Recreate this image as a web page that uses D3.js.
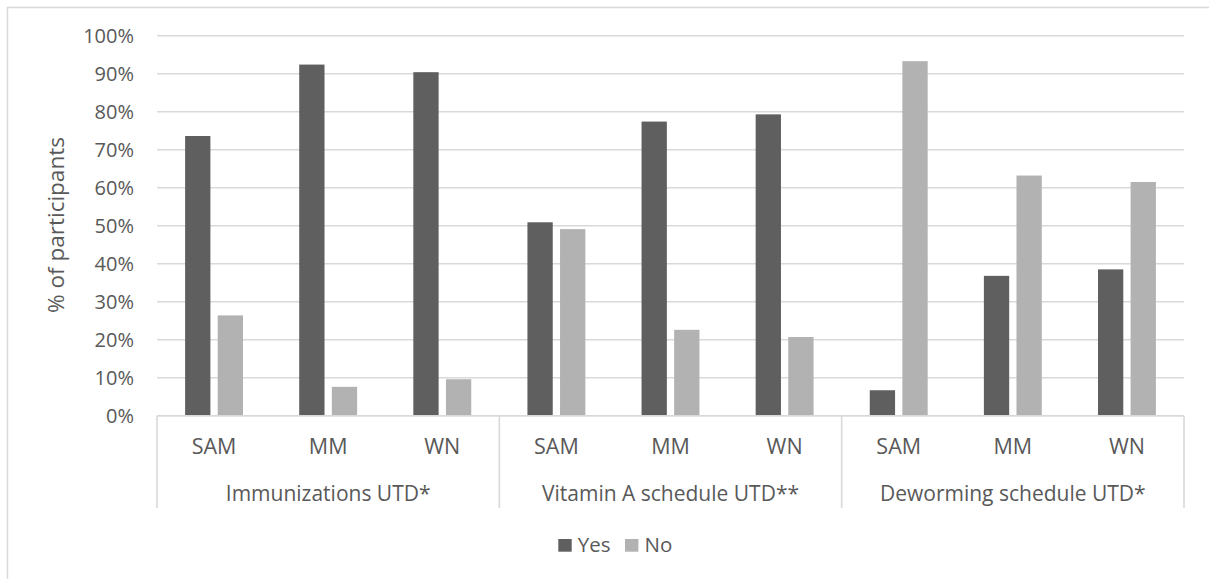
<!DOCTYPE html>
<html>
<head>
<meta charset="utf-8">
<script src="https://cdn.jsdelivr.net/npm/d3@7/dist/d3.min.js"></script>
<style>
  html, body { margin: 0; padding: 0; background: #ffffff; }
  svg { display: block; font-family: "Open Sans", "Noto Sans", sans-serif; }
</style>
</head>
<body>
<svg id="chart" width="1209" height="579"></svg>
<script>
// Outcome groups and the nutrition-status subgroups inside each
const groups = ["Immunizations UTD*", "Vitamin A schedule UTD**", "Deworming schedule UTD*"];
const subgroups = ["SAM", "MM", "WN"];
const seriesNames = ["Yes", "No"];

// Percent of participants, in group order (SAM, MM, WN per group)
const yesValues = [73.6, 92.4, 90.4, 50.9, 77.4, 79.3, 6.7, 36.8, 38.5];
const noValues  = [26.4, 7.6, 9.6, 49.1, 22.6, 20.7, 93.3, 63.2, 61.5];

const yTicks = [0, 10, 20, 30, 40, 50, 60, 70, 80, 90, 100];
const yTitle = "% of participants";

const colors = { Yes: "#5f5f5f", No: "#b2b2b2" };
const textColor = "#595959";
const lineColor = "#d9d9d9";

// Flat category list: one entry per (group, subgroup)
const categories = [];
groups.forEach((g, gi) => subgroups.forEach((s, si) => {
  const i = gi * subgroups.length + si;
  categories.push({ key: g + "|" + s, group: g, sub: s, Yes: yesValues[i], No: noValues[i] });
}));

const svg = d3.select("#chart");
const plot = { left: 157, right: 1184, top: 35.7, bottom: 415.7 };

const x = d3.scaleBand()
  .domain(categories.map(d => d.key))
  .range([plot.left, plot.right])
  .padding(0);

const xInner = d3.scaleBand()
  .domain(seriesNames)
  .range([0, x.bandwidth()])
  .paddingInner(0.224)
  .paddingOuter(0.862);

const y = d3.scaleLinear().domain([0, 100]).range([plot.bottom, plot.top]);

// Outer chart frame (top and left edges fall inside the view)
svg.append("line").attr("x1", 7).attr("x2", 1209).attr("y1", 7.5).attr("y2", 7.5)
  .attr("stroke", lineColor).attr("stroke-width", 1.5);
svg.append("line").attr("x1", 7.5).attr("x2", 7.5).attr("y1", 7).attr("y2", 579)
  .attr("stroke", lineColor).attr("stroke-width", 1.5);

// Horizontal gridlines
svg.append("g").selectAll("line").data(yTicks).join("line")
  .attr("x1", plot.left).attr("x2", plot.right)
  .attr("y1", d => y(d)).attr("y2", d => y(d))
  .attr("stroke", lineColor).attr("stroke-width", 1.6);

// Y axis labels
const yAxis = d3.axisLeft(y).tickValues(yTicks).tickFormat(d => d + "%").tickSize(0).tickPadding(0);
const yg = svg.append("g").attr("transform", `translate(134,0)`).call(yAxis);
yg.select(".domain").remove();
yg.selectAll("text")
  .attr("font-family", "Open Sans")
  .attr("font-size", 20)
  .attr("fill", textColor)
  .attr("dy", "0.35em");

// Bars
const catG = svg.append("g").selectAll("g").data(categories).join("g")
  .attr("transform", d => `translate(${x(d.key)},0)`);
catG.selectAll("rect")
  .data(d => seriesNames.map(s => ({ s, v: d[s] })))
  .join("rect")
  .attr("x", d => xInner(d.s))
  .attr("width", xInner.bandwidth())
  .attr("y", d => y(d.v))
  .attr("height", d => y(0) - y(d.v))
  .attr("fill", d => colors[d.s]);

// Category axis box: top edge plus group separators
const boxBottom = 508;
svg.append("line").attr("x1", plot.left).attr("x2", plot.right)
  .attr("y1", plot.bottom).attr("y2", plot.bottom)
  .attr("stroke", lineColor).attr("stroke-width", 1.6);
const sepX = groups.map((g, gi) => x(categories[gi * subgroups.length].key)).concat([plot.right]);
svg.append("g").selectAll("line").data(sepX).join("line")
  .attr("x1", d => d).attr("x2", d => d)
  .attr("y1", plot.bottom).attr("y2", boxBottom)
  .attr("stroke", lineColor).attr("stroke-width", 1.6);

// Subgroup labels
svg.append("g").selectAll("text").data(categories).join("text")
  .attr("x", d => x(d.key) + x.bandwidth() / 2)
  .attr("y", 454)
  .attr("text-anchor", "middle")
  .attr("font-size", 21.5)
  .attr("fill", textColor)
  .text(d => d.sub);

// Group labels
svg.append("g").selectAll("text").data(groups).join("text")
  .attr("x", (g, gi) => (sepX[gi] + sepX[gi + 1]) / 2)
  .attr("y", 501)
  .attr("text-anchor", "middle")
  .attr("font-size", 21)
  .attr("fill", textColor)
  .text(d => d);

// Y axis title
svg.append("text")
  .attr("transform", "translate(64,225) rotate(-90)")
  .attr("text-anchor", "middle")
  .attr("font-size", 22.5)
  .attr("fill", textColor)
  .text(yTitle);

// Legend
const legendPos = [{ s: "Yes", x: 558.3 }, { s: "No", x: 625 }];
const lg = svg.append("g").selectAll("g").data(legendPos).join("g")
  .attr("transform", d => `translate(${d.x},539)`);
lg.append("rect").attr("width", 13.4).attr("height", 12.7).attr("fill", d => colors[d.s]);
lg.append("text")
  .attr("x", 19.5).attr("y", 13.3)
  .attr("font-size", 20.5)
  .attr("fill", textColor)
  .text(d => d.s);
</script>
</body>
</html>
